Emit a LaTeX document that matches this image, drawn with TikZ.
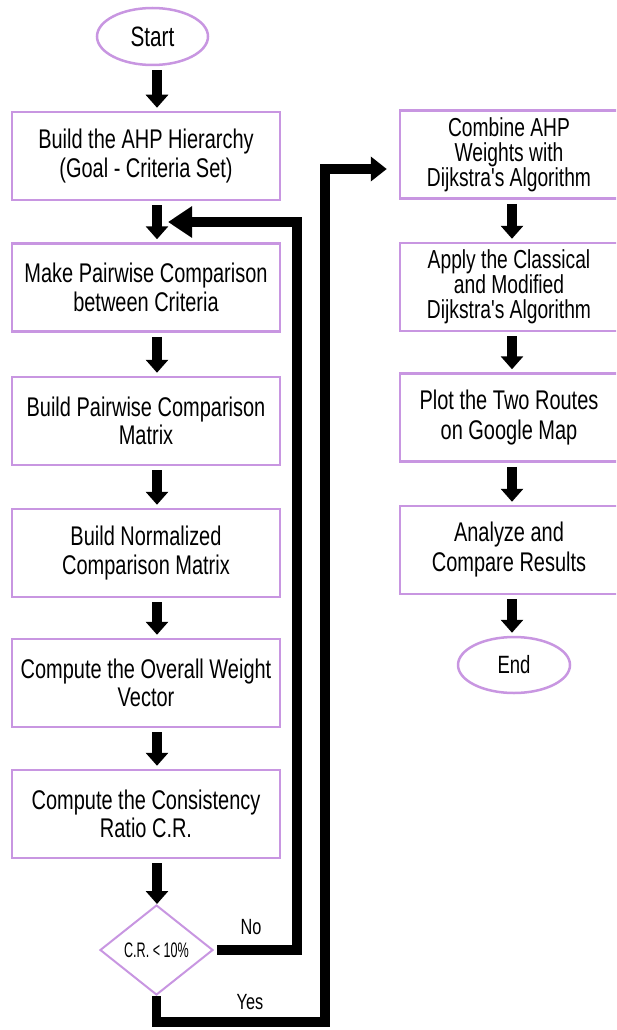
\documentclass[tikz,border=0pt]{standalone}
\usepackage{fontspec}
\setmainfont{Liberation Sans}[FakeStretch=0.74]
\newfontfamily\narrowfont{Liberation Sans}[FakeStretch=0.6]
\newfontfamily\apfont{Liberation Sans}[FakeStretch=0.74,Ligatures=ResetAll]
\newcommand{\apos}{{\apfont\char39}}
\usetikzlibrary{shapes.geometric,arrows.meta}
\definecolor{boxpurple}{RGB}{200,150,225}
\begin{document}
\begin{tikzpicture}[x=1pt,y=-1pt,
  box/.style={draw=boxpurple,line width=2.5pt,fill=white,minimum width=268pt,minimum height=88pt,inner sep=0pt,align=center,font=\fontsize{27}{28.5}\selectfont},
  rbox/.style={box,minimum width=218pt},
  tight/.style={font=\fontsize{26}{25}\selectfont},
  loose/.style={font=\fontsize{27}{30}\selectfont},
  term/.style={ellipse,draw=boxpurple,line width=2.5pt,inner sep=0pt},
  dec/.style={diamond,draw=boxpurple,line width=2pt,inner sep=0pt,minimum width=113pt,minimum height=90pt},
  flow/.style={line width=10pt,-{Triangle[width=22pt,length=13pt]},shorten <=4pt,shorten >=3pt},
  link/.style={line width=9.5pt},
  lbl/.style={font=\fontsize{22}{24}\selectfont,inner sep=0pt}
]
\useasboundingbox (0,0) rectangle (616,1030);
\clip (0,0) rectangle (616,1030);

% left column
\node[term,minimum width=111pt,minimum height=57pt,font=\fontsize{28}{30}\selectfont] (start) at (152.5,36.5) {Start};
\node[box] (b1) at (146,156) {Build the AHP Hierarchy\\(Goal - Criteria Set)};
\node[box] (b2) at (146,287.5) {Make Pairwise Comparison\\between Criteria};
\node[box] (b3) at (146,421) {Build Pairwise Comparison\\Matrix};
\node[box] (b4) at (146,553) {Build Normalized\\Comparison Matrix};
\node[box] (b5) at (146,683) {Compute the Overall Weight\\Vector};
\node[box] (b6) at (146,814) {Compute the Consistency\\Ratio C.R.};
\node[dec] (dia) at (156.5,950) {\narrowfont\fontsize{21}{23}\selectfont C.R. < 10\%};

% right column
\node[rbox,tight] (c1) at (509,154.5) {Combine AHP\\Weights with\\Dijkstra\apos s Algorithm};
\node[rbox,tight] (c2) at (509,287) {Apply the Classical\\and Modified\\Dijkstra\apos s Algorithm};
\node[rbox,loose] (c3) at (509,417.5) {Plot the Two Routes\\on Google Map};
\node[rbox,loose] (c4) at (509,550) {Analyze and\\Compare Results};
\node[term,minimum width=112pt,minimum height=56pt,font=\fontsize{25}{27}\selectfont] (end) at (514,665) {End};

% helper coordinates
\coordinate (xl) at (157,0);
\coordinate (xr) at (512,0);
\coordinate (fbcorner) at (297,222);
\coordinate (fbtip) at (168,222);
\coordinate (yb) at (325,1022);
\coordinate (yt) at (325,169);

% down arrows left
\draw[flow] (start.south -| xl) -- (b1.north -| xl);
\draw[flow] (b1.south -| xl) -- (b2.north -| xl);
\draw[flow] (b2.south -| xl) -- (b3.north -| xl);
\draw[flow] (b3.south -| xl) -- (b4.north -| xl);
\draw[flow] (b4.south -| xl) -- (b5.north -| xl);
\draw[flow] (b5.south -| xl) -- (b6.north -| xl);
\draw[flow,shorten >=0pt] (b6.south -| xl) -- (dia.north -| xl);

% down arrows right
\draw[flow] (c1.south -| xr) -- (c2.north -| xr);
\draw[flow] (c2.south -| xr) -- (c3.north -| xr);
\draw[flow] (c3.south -| xr) -- (c4.north -| xr);
\draw[flow] (c4.south -| xr) -- (end.north -| xr);

% No branch
\draw[link,-{Triangle[width=30pt,length=24pt]},shorten <=3pt] (dia.east) -| (fbcorner) -- (fbtip);
\node[lbl] (no) at (251,927) {No};

% Yes branch
\draw[link,-{Triangle[width=24pt,length=16pt]},shorten >=12pt] (dia.south) |- (yb) -- (yt) -- (c1.west |- yt);
\node[lbl] (yes) at (250,1002) {Yes};
\end{tikzpicture}
\end{document}
